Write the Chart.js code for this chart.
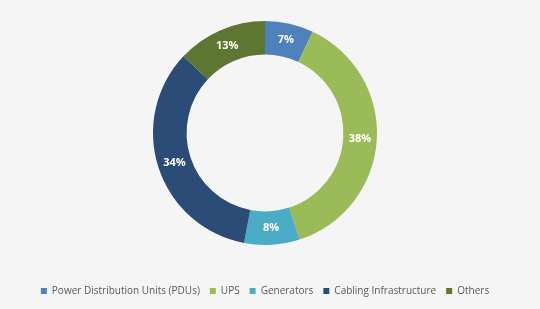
<!DOCTYPE html>
<html>
<head>
<meta charset="utf-8">
<script src="https://cdn.jsdelivr.net/npm/chart.js@4"></script>
<style>
  html, body { margin: 0; padding: 0; background: #f5f5f5; overflow: hidden; }
  #wrap { width: 540px; height: 319px; position: relative; top: -10px; }
</style>
</head>
<body>
<div id="wrap"><canvas id="chart"></canvas></div>
<script>
const segments = ['Power Distribution Units (PDUs)', 'UPS', 'Generators', 'Cabling Infrastructure', 'Others'];
const shares = [7, 38, 8, 34, 13];
const segmentColors = ['#4f81bd', '#9bbb59', '#4bacc6', '#2b4c76', '#5d7631'];

// draws the percentage in the middle of each ring segment
const sliceLabels = {
    id: 'sliceLabels',
    afterDatasetsDraw(chart) {
        const ctx = chart.ctx;
        const meta = chart.getDatasetMeta(0);
        ctx.save();
        ctx.fillStyle = '#ffffff';
        ctx.font = 'bold 11px "Open Sans", sans-serif';
        ctx.textAlign = 'center';
        ctx.textBaseline = 'middle';
        meta.data.forEach((arc, i) => {
            const pos = arc.tooltipPosition();
            ctx.fillText(shares[i] + '%', pos.x, pos.y);
        });
        ctx.restore();
    }
};

const ctx = document.getElementById('chart').getContext('2d');
const myChart = new Chart(ctx, {
    type: 'doughnut',
    data: {
        labels: segments,
        datasets: [{
            data: shares,
            backgroundColor: segmentColors,
            borderWidth: 0
        }]
    },
    options: {
        responsive: true,
        maintainAspectRatio: false,
        animation: false,
        radius: 112,
        cutout: '70%',
        layout: {
            padding: { top: 0, bottom: 3, right: 10 }
        },
        plugins: {
            legend: {
                position: 'bottom',
                labels: {
                    boxWidth: 6,
                    boxHeight: 6,
                    padding: 10,
                    color: '#595959',
                    font: { family: '"Open Sans", sans-serif', size: 10 }
                }
            },
            tooltip: { enabled: false }
        }
    },
    plugins: [sliceLabels]
});
</script>
</body>
</html>
